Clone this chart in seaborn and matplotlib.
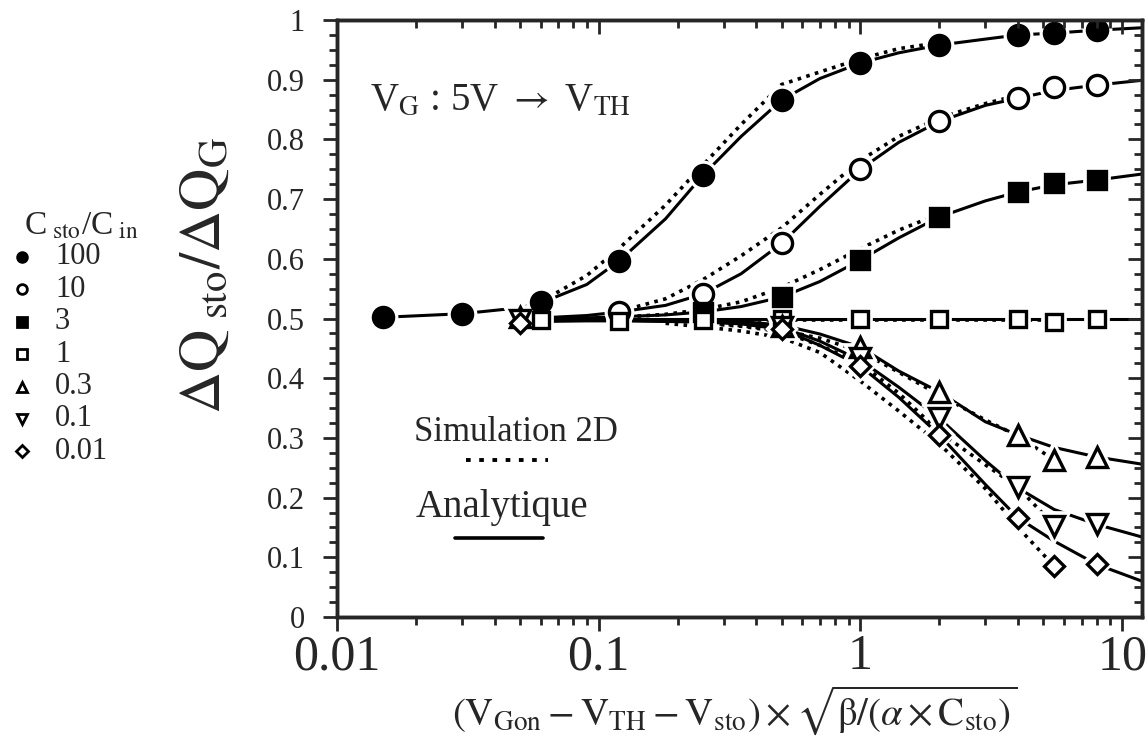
import numpy as np
import pandas as pd
import matplotlib
matplotlib.use("Agg")
import matplotlib.pyplot as plt
import seaborn as sns
from matplotlib.lines import Line2D
from matplotlib.ticker import FixedLocator, NullFormatter, FixedFormatter

nan = np.nan
# ---------------- data ----------------
series_labels = ["100", "10", "3", "1", "0.3", "0.1", "0.01"]
series_markers = ["o", "o", "s", "s", "^", "v", "D"]
series_filled = [True, False, True, False, False, False, False]

mk_x_100 = [0.015, 0.03, 0.06, 0.12, 0.25, 0.5, 1, 2, 4, 5.5, 8]
mk_y_100 = [0.502, 0.508, 0.528, 0.597, 0.740, 0.866, 0.928, 0.958, 0.975, 0.978, 0.983]
mk_x_10 = [0.12, 0.25, 0.5, 1, 2, 4, 5.5, 8]
mk_y_10 = [0.511, 0.541, 0.626, 0.750, 0.830, 0.869, 0.888, 0.891]
mk_x_3 = [0.25, 0.5, 1, 2, 4, 5.5, 8]
mk_y_3 = [0.511, 0.536, 0.598, 0.670, 0.712, 0.727, 0.732]
mk_x_1 = [0.06, 0.12, 0.25, 0.5, 1, 2, 4, 5.5, 8]
mk_y_1 = [0.497, 0.495, 0.497, 0.500, 0.500, 0.500, 0.500, 0.494, 0.500]
mk_x_03 = [0.05, 0.5, 1, 2, 4, 5.5, 8]
mk_y_03 = [0.503, 0.488, 0.452, 0.377, 0.305, 0.263, 0.268]
mk_x_01 = [0.05, 0.5, 1, 2, 4, 5.5, 8]
mk_y_01 = [0.497, 0.485, 0.433, 0.333, 0.217, 0.153, 0.155]
mk_x_001 = [0.05, 0.5, 1, 2, 4, 5.5, 8]
mk_y_001 = [0.492, 0.482, 0.420, 0.305, 0.166, 0.085, 0.088]

# curves, on a common x grid
curve_x = [0.015, 0.03, 0.05, 0.06, 0.09, 0.12, 0.18, 0.25, 0.35, 0.5, 0.7,
           1, 1.4, 2, 3, 4, 5.5, 8, 11.9]
ana_100 = [0.502, 0.508, 0.518, 0.526, 0.557, 0.597, 0.667, 0.740, 0.805, 0.866, 0.902,
           0.928, 0.945, 0.958, 0.968, 0.975, 0.978, 0.983, 0.987]
ana_10 = [nan, nan, 0.500, 0.501, 0.505, 0.511, 0.522, 0.541, 0.575, 0.626, 0.688,
          0.750, 0.795, 0.830, 0.857, 0.869, 0.882, 0.891, 0.899]
ana_3 = [nan, nan, 0.500, 0.500, 0.501, 0.503, 0.506, 0.511, 0.520, 0.536, 0.562,
         0.598, 0.635, 0.670, 0.697, 0.712, 0.724, 0.732, 0.742]
ana_1 = [nan, nan, 0.500, 0.500, 0.500, 0.500, 0.500, 0.500, 0.500, 0.500, 0.500,
         0.500, 0.500, 0.500, 0.500, 0.500, 0.500, 0.500, 0.500]
ana_03 = [nan, nan, 0.503, 0.500, 0.499, 0.499, 0.498, 0.497, 0.495, 0.489, 0.474,
          0.452, 0.412, 0.377, 0.327, 0.305, 0.284, 0.268, 0.256]
ana_01 = [nan, nan, 0.497, 0.498, 0.498, 0.497, 0.496, 0.495, 0.492, 0.485, 0.462,
          0.430, 0.385, 0.333, 0.262, 0.216, 0.180, 0.155, 0.134]
ana_001 = [nan, nan, 0.492, 0.495, 0.496, 0.496, 0.495, 0.494, 0.491, 0.482, 0.455,
           0.420, 0.368, 0.305, 0.222, 0.166, 0.127, 0.088, 0.060]

sim_100 = [nan, nan, nan, 0.528, 0.572, 0.618, 0.690, 0.757, 0.825, 0.892, 0.913,
           0.935, 0.952, 0.962, nan, nan, nan, nan, nan]
sim_10 = [nan, nan, nan, nan, nan, 0.512, 0.533, 0.565, 0.605, 0.652, 0.708,
          0.765, 0.805, 0.836, 0.860, 0.874, nan, nan, nan]
sim_3 = [nan, nan, nan, nan, nan, 0.502, 0.507, 0.515, 0.528, 0.552, 0.582,
         0.617, 0.648, 0.675, nan, nan, nan, nan, nan]
sim_1 = [nan, nan, nan, 0.497, 0.497, 0.497, 0.497, 0.497, 0.497, 0.497, 0.497,
         0.497, 0.497, 0.497, 0.497, 0.497, 0.497, nan, nan]
sim_03 = [nan, nan, nan, nan, nan, nan, 0.497, 0.493, 0.488, 0.480, 0.467,
          0.445, 0.410, 0.372, 0.330, 0.303, 0.263, nan, nan]
sim_01 = [nan, nan, nan, nan, nan, nan, nan, 0.492, 0.487, 0.478, 0.455,
          0.425, 0.375, 0.310, 0.255, 0.217, 0.153, nan, nan]
sim_001 = [nan, nan, nan, nan, nan, nan, 0.492, 0.486, 0.479, 0.468, 0.443,
           0.395, 0.345, 0.290, 0.215, 0.150, 0.085, nan, nan]

x_tick_values = [0.01, 0.1, 1, 10]
x_tick_labels = ["0.01", "0.1", "1", "10"]
y_tick_values = [0, 0.1, 0.2, 0.3, 0.4, 0.5, 0.6, 0.7, 0.8, 0.9, 1]
y_tick_labels = ["0", "0.1", "0.2", "0.3", "0.4", "0.5", "0.6", "0.7", "0.8", "0.9", "1"]

marker_sets = [(mk_x_100, mk_y_100), (mk_x_10, mk_y_10), (mk_x_3, mk_y_3), (mk_x_1, mk_y_1),
               (mk_x_03, mk_y_03), (mk_x_01, mk_y_01), (mk_x_001, mk_y_001)]
ana_sets = [ana_100, ana_10, ana_3, ana_1, ana_03, ana_01, ana_001]
sim_sets = [sim_100, sim_10, sim_3, sim_1, sim_03, sim_01, sim_001]

# ---------------- style ----------------
sns.set_theme(style="ticks")
plt.rcParams["font.family"] = ["Liberation Serif", "DejaVu Serif"]
plt.rcParams["mathtext.fontset"] = "stix"
plt.rcParams["axes.linewidth"] = 2.2

W, H = 1148, 751
fig = plt.figure(figsize=(W / 100, H / 100), dpi=100)
fig.patch.set_facecolor("white")


def fx(px):
    return px / W


def fy(py):
    return 1 - py / H


ax = fig.add_axes([fx(337), fy(617), fx(1142) - fx(337), fy(20) - fy(617)])
ax.set_facecolor("white")
ax.set_xscale("log")

ana_df = pd.DataFrame({
    "x": np.tile(curve_x, len(series_labels)),
    "y": np.concatenate(ana_sets),
    "series": np.repeat(series_labels, len(curve_x)),
}).dropna()
sim_df = pd.DataFrame({
    "x": np.tile(curve_x, len(series_labels)),
    "y": np.concatenate(sim_sets),
    "series": np.repeat(series_labels, len(curve_x)),
}).dropna()

sns.lineplot(data=ana_df, x="x", y="y", units="series", estimator=None, sort=False,
             color="black", linewidth=2.2, ax=ax, zorder=2, legend=False)
sns.lineplot(data=sim_df, x="x", y="y", units="series", estimator=None, sort=False,
             color="black", linewidth=2.6, linestyle=(0, (1.0, 1.5)), ax=ax, zorder=2,
             legend=False)

msizes = {"o": 14.5, "s": 13, "^": 14, "v": 14, "D": 10.5}
for (mx, my), m, filled in zip(marker_sets, series_markers, series_filled):
    ms = msizes[m] if filled or m != "s" else 12
    ax.plot(mx, my, ls="none", marker=m, ms=ms, mfc="white", mec="white", mew=7, zorder=3)
for (mx, my), m, filled in zip(marker_sets, series_markers, series_filled):
    ms = msizes[m] if filled or m != "s" else 12
    ax.plot(mx, my, ls="none", marker=m, ms=ms, mfc="black" if filled else "white",
            mec="black", mew=2.4, zorder=4)

ax.set_xlim(0.01, 11.9)
ax.set_ylim(0, 1)
ax.xaxis.set_major_locator(FixedLocator(x_tick_values))
ax.xaxis.set_major_formatter(FixedFormatter(x_tick_labels))
minor_x = [m * d for d in [0.01, 0.1, 1] for m in range(2, 10)]
ax.xaxis.set_minor_locator(FixedLocator(minor_x))
ax.xaxis.set_minor_formatter(NullFormatter())
ax.yaxis.set_major_locator(FixedLocator(y_tick_values))
ax.yaxis.set_major_formatter(FixedFormatter(y_tick_labels))
ax.yaxis.set_minor_locator(FixedLocator(list(np.arange(0, 1.001, 0.025))))
ax.tick_params(axis="x", which="major", direction="out", length=10, width=2, labelsize=36, pad=2)
ax.tick_params(axis="x", which="minor", direction="out", length=6, width=2)
ax.tick_params(axis="y", which="major", direction="out", length=10, width=2, labelsize=22, pad=13)
ax.tick_params(axis="y", which="minor", direction="out", length=6, width=2)
ax.set_xlabel("")
ax.set_ylabel("")
for s in ax.spines.values():
    s.set_linewidth(2.4)

# top & right ticks pointing inward
axt = ax.twiny()
axt.set_xscale("log")
axt.set_xlim(ax.get_xlim())
axt.xaxis.set_major_locator(FixedLocator(x_tick_values))
axt.xaxis.set_minor_locator(FixedLocator(minor_x))
axt.tick_params(axis="x", which="major", direction="in", length=10, width=2, labeltop=False)
axt.tick_params(axis="x", which="minor", direction="in", length=6, width=2, labeltop=False)
axr = ax.twinx()
axr.set_ylim(ax.get_ylim())
axr.yaxis.set_major_locator(FixedLocator(y_tick_values))
axr.yaxis.set_minor_locator(FixedLocator(list(np.arange(0, 1.001, 0.025))))
axr.tick_params(axis="y", which="major", direction="in", length=10, width=2, labelright=False)
axr.tick_params(axis="y", which="minor", direction="in", length=6, width=2, labelright=False)
for a in (axt, axr):
    for s in a.spines.values():
        s.set_linewidth(2.4)

# annotations inside the plot
fig.text(fx(370), fy(110), r"V$_{\rm G}$ : 5V $\rightarrow$ V$_{\rm TH}$", fontsize=28,
         ha="left", va="baseline")
fig.text(fx(414), fy(441), "Simulation 2D", fontsize=25, ha="left", va="baseline")
fig.add_artist(Line2D([fx(466), fx(548)], [fy(460), fy(460)], transform=fig.transFigure,
                      color="black", lw=2.8, ls=(0, (1.2, 2.2))))
fig.text(fx(416), fy(517), "Analytique", fontsize=28, ha="left", va="baseline")
fig.add_artist(Line2D([fx(455), fx(543)], [fy(538), fy(538)], transform=fig.transFigure,
                      color="black", lw=2.6))

# axis labels
fig.text(fx(206), fy(275), r"$\Delta\mathrm{Q}_{\ \mathrm{sto}}/\Delta\mathrm{Q}_{\mathrm{G}}$",
         fontsize=42, rotation=90, ha="center", va="center")
fig.text(fx(735), fy(710),
         r"$\left(\mathrm{V_{Gon}}-\mathrm{V_{TH}}-\mathrm{V_{sto}}\right)\times"
         r"\sqrt{\mathrm{\beta}/\left(\alpha\times\mathrm{C_{sto}}\right)}$",
         fontsize=28, ha="center", va="center")

# left-hand key
fig.text(fx(24), fy(226), r"C$_{\ \rm sto}$/C$_{\ \rm in}$", fontsize=24, ha="left", va="center")
for i, (lab, m, filled) in enumerate(zip(series_labels, series_markers, series_filled)):
    yy = 257 + 32.4 * i
    fig.add_artist(Line2D([fx(22)], [fy(yy)], transform=fig.transFigure, ls="none",
                          marker=m, ms=7 if m != "D" else 6, mfc="black" if filled else "white",
                          mec="black", mew=2))
    fig.text(fx(55), fy(yy), lab, fontsize=22, ha="left", va="center")

fig.savefig("out.png", dpi=100, facecolor="white")
